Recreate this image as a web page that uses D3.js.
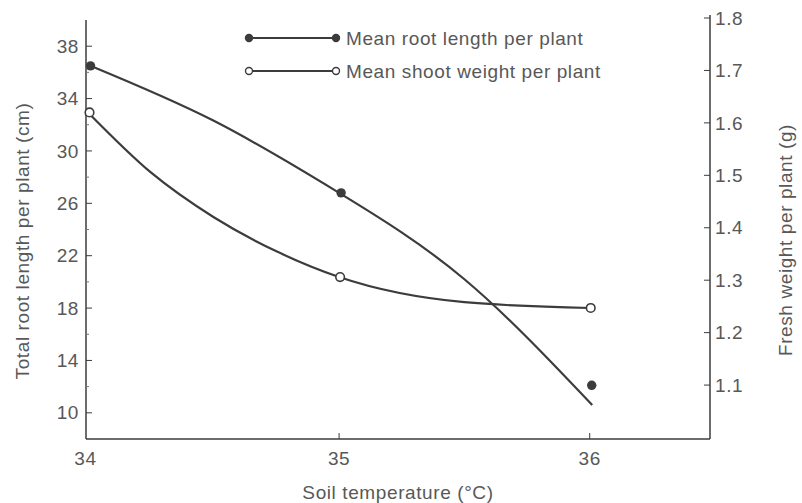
<!DOCTYPE html>
<html>
<head>
<meta charset="utf-8">
<script src="https://cdn.jsdelivr.net/npm/d3@7"></script>
<style>
  body { margin: 0; background: #fff; }
  text { font-family: "Liberation Sans", Arial, sans-serif; fill: #585858; letter-spacing: 0.6px; }
</style>
</head>
<body>
<div id="chart"></div>
<script>
// measured points (soil temperature, deg C)
const temps = [34, 35, 36];
const rootLength = [36.5, 26.8, 12.1];     // cm, left axis
const shootWeight = [1.62, 1.306, 1.247];  // g, right axis

// fitted curves as drawn in the figure
const rootFitTemps = [34, 34.5, 35, 35.5, 36.01];
const rootFitValues = [36.56, 32.3, 26.8, 20.2, 10.6];
const shootFitTemps = [34, 34.25, 34.5, 34.75, 35, 35.5, 36];
const shootFitValues = [1.619, 1.505, 1.42, 1.355, 1.306, 1.258, 1.247];

const leftTicks = [10, 14, 18, 22, 26, 30, 34, 38];
const leftMinor = [12, 16, 20, 24, 28, 32, 36];
const rightTicks = [1.1, 1.2, 1.3, 1.4, 1.5, 1.6, 1.7, 1.8];
const xTicks = [34, 35, 36];

const legendLabels = ["Mean root length per plant", "Mean shoot weight per plant"];

const W = 802, H = 503;
const ink = "#3c3c3c";
const fs = "19px";

const svg = d3.select("#chart").append("svg")
  .attr("width", W).attr("height", H);

const x = d3.scaleLinear().domain([33.99, 36.48]).range([86, 710]);
const yL = d3.scaleLinear().domain([8, 40]).range([439, 20]);
const yR = d3.scaleLinear().domain([1.0, 1.8]).range([437.5, 18]);

// axes frame
svg.append("line").attr("x1", 86).attr("x2", 86).attr("y1", 20).attr("y2", 439)
  .attr("stroke", ink).attr("stroke-width", 1.5);
svg.append("line").attr("x1", 710).attr("x2", 710).attr("y1", 15).attr("y2", 439)
  .attr("stroke", ink).attr("stroke-width", 1.5);
svg.append("line").attr("x1", 86).attr("x2", 710).attr("y1", 439).attr("y2", 439)
  .attr("stroke", ink).attr("stroke-width", 1.5);

// left ticks (inward)
const gL = svg.append("g");
gL.selectAll("line.maj").data(leftTicks).enter().append("line")
  .attr("x1", 86).attr("x2", 92)
  .attr("y1", d => yL(d)).attr("y2", d => yL(d))
  .attr("stroke", ink).attr("stroke-width", 1);
gL.selectAll("line.min").data(leftMinor).enter().append("line")
  .attr("x1", 86).attr("x2", 89)
  .attr("y1", d => yL(d)).attr("y2", d => yL(d))
  .attr("stroke", "#777").attr("stroke-width", 1);
gL.selectAll("text").data(leftTicks).enter().append("text")
  .attr("x", 79).attr("y", d => yL(d)).attr("dy", "0.35em")
  .attr("text-anchor", "end").style("font-size", fs)
  .text(d => d);

// right ticks (inward)
const gR = svg.append("g");
gR.selectAll("line").data(rightTicks).enter().append("line")
  .attr("x1", 704).attr("x2", 710)
  .attr("y1", d => yR(d)).attr("y2", d => yR(d))
  .attr("stroke", ink).attr("stroke-width", 1);
gR.selectAll("text").data(rightTicks).enter().append("text")
  .attr("x", 715).attr("y", d => yR(d)).attr("dy", "0.35em")
  .style("font-size", fs)
  .text(d => d3.format(".1f")(d));

// bottom ticks
const gB = svg.append("g");
gB.selectAll("line").data(xTicks.slice(1)).enter().append("line")
  .attr("x1", d => x(d)).attr("x2", d => x(d))
  .attr("y1", 433).attr("y2", 439)
  .attr("stroke", ink).attr("stroke-width", 1);
gB.selectAll("text").data(xTicks).enter().append("text")
  .attr("x", d => x(d) - (d === 34 ? 3 : 0)).attr("y", 465)
  .attr("text-anchor", "middle").style("font-size", fs)
  .text(d => d);

// axis titles
svg.append("text").attr("x", W / 2 - 3).attr("y", 499)
  .attr("text-anchor", "middle").style("font-size", fs)
  .text("Soil temperature (°C)");
svg.append("text")
  .attr("transform", "translate(29,241) rotate(-90)")
  .attr("text-anchor", "middle").style("font-size", fs)
  .text("Total root length per plant (cm)");
svg.append("text")
  .attr("transform", "translate(792,240) rotate(-90)")
  .attr("text-anchor", "middle").style("font-size", fs)
  .text("Fresh weight per plant (g)");

// curves
const rootLine = d3.line()
  .x((d, i) => x(rootFitTemps[i])).y(d => yL(d))
  .curve(d3.curveNatural);
const shootLine = d3.line()
  .x((d, i) => x(shootFitTemps[i])).y(d => yR(d))
  .curve(d3.curveMonotoneX);

svg.append("path").attr("d", rootLine(rootFitValues))
  .attr("fill", "none").attr("stroke", ink).attr("stroke-width", 2.2);
svg.append("path").attr("d", shootLine(shootFitValues))
  .attr("fill", "none").attr("stroke", ink).attr("stroke-width", 2.2);

// points
svg.selectAll("circle.root").data(rootLength).enter().append("circle")
  .attr("class", "root")
  .attr("cx", (d, i) => x(temps[i]) + 2).attr("cy", d => yL(d))
  .attr("r", 4.7).attr("fill", ink);
svg.selectAll("circle.shoot").data(shootWeight).enter().append("circle")
  .attr("class", "shoot")
  .attr("cx", (d, i) => x(temps[i]) + 1).attr("cy", d => yR(d))
  .attr("r", 4.3).attr("fill", "#fff").attr("stroke", ink).attr("stroke-width", 1.6);

// legend
const leg = svg.append("g");
const legY = [38, 71];
legendLabels.forEach((label, i) => {
  const y = legY[i];
  leg.append("line").attr("x1", 247).attr("x2", 336).attr("y1", y).attr("y2", y)
    .attr("stroke", ink).attr("stroke-width", 2.2);
  [249, 336].forEach(cx => {
    leg.append("circle").attr("cx", cx).attr("cy", y).attr("r", 3.5)
      .attr("fill", i === 0 ? ink : "#fff")
      .attr("stroke", ink).attr("stroke-width", 1.4);
  });
  leg.append("text").attr("x", 346).attr("y", y).attr("dy", "0.35em")
    .style("font-size", fs).text(label);
});
</script>
</body>
</html>
